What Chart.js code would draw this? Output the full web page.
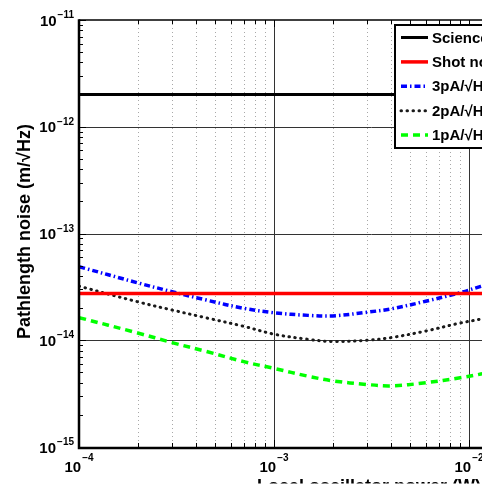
<!DOCTYPE html>
<html><head><meta charset="utf-8">
<script src="https://cdn.jsdelivr.net/npm/chart.js@4/dist/chart.umd.min.js"></script>
<style>
html,body{margin:0;padding:0;overflow:hidden;background:#fff;width:482px;height:490px}
#wrap{position:absolute;left:0;top:0;width:700px;height:490px}
</style></head>
<body><div id="wrap"><canvas id="c" width="700" height="490"></canvas></div>
<script>
// ---- data ----
const powerW   = [1e-4, 2e-4, 3e-4, 4.5e-4, 7e-4, 1e-3, 1.5e-3, 2e-3, 3e-3, 4e-3, 6e-3, 9e-3, 1.15e-2, 1.3e-2];
const noise3pA = [4.89e-14, 3.45e-14, 2.85e-14, 2.38e-14, 1.99e-14, 1.81e-14, 1.71e-14, 1.69e-14, 1.83e-14, 1.97e-14, 2.32e-14, 2.79e-14, 3.2e-14, 3.45e-14];
const noise2pA = [3.21e-14, 2.29e-14, 1.92e-14, 1.62e-14, 1.35e-14, 1.14e-14, 1.02e-14, 9.72e-15, 1.0e-14, 1.06e-14, 1.22e-14, 1.45e-14, 1.58e-14, 1.68e-14];
const noise1pA = [1.63e-14, 1.17e-14, 9.5e-15, 7.85e-15, 6.3e-15, 5.45e-15, 4.6e-15, 4.17e-15, 3.85e-15, 3.74e-15, 4.0e-15, 4.45e-15, 4.82e-15, 5.1e-15];
const flatX        = [1e-4, 1e-1];
const scienceReq   = [2.0e-12, 2.0e-12];
const shotNoise    = [2.74e-14, 2.74e-14];
const seriesLabels = ['Science requirement', 'Shot noise limit', '3pA/\u221AHz electronic noise', '2pA/\u221AHz electronic noise', '1pA/\u221AHz electronic noise'];
const xTickExps = [-4, -3, -2, -1];
const yTickExps = [-15, -14, -13, -12, -11];
const xTitle = 'Local oscillator power (W)';
const yTitle = 'Pathlength noise (m/\u221AHz)';

const FONT = '"Liberation Sans", Arial, Helvetica, sans-serif';
const pts = (xs, ys) => xs.map((v, i) => ({x: v, y: ys[i]}));
const SUP = {'-':'\u2212'};
const supText = e => String(e).split('').map(c => SUP[c] || c).join('');

const deco = {
  id: 'deco',
  beforeDatasetsDraw(chart) {
    const {ctx, chartArea: a, scales: {x, y}} = chart;
    ctx.save();
    ctx.beginPath(); ctx.rect(a.left, a.top, a.right - a.left, a.bottom - a.top); ctx.clip();
    ctx.strokeStyle = '#a8a8a8'; ctx.lineWidth = 1; ctx.setLineDash([1, 3]);
    for (let e = xTickExps[0]; e < xTickExps[xTickExps.length - 1]; e++) {
      for (let m = 2; m <= 9; m++) {
        const px = Math.round(x.getPixelForValue(m * Math.pow(10, e))) + 0.5;
        ctx.beginPath(); ctx.moveTo(px, a.top); ctx.lineTo(px, a.bottom); ctx.stroke();
      }
    }
    ctx.setLineDash([]);
    ctx.strokeStyle = '#333'; ctx.lineWidth = 1;
    xTickExps.slice(1, -1).forEach(e => {
      const px = Math.round(x.getPixelForValue(Math.pow(10, e))) + 0.5;
      ctx.beginPath(); ctx.moveTo(px, a.top); ctx.lineTo(px, a.bottom); ctx.stroke();
    });
    yTickExps.slice(1, -1).forEach(e => {
      const py = Math.round(y.getPixelForValue(Math.pow(10, e))) + 0.5;
      ctx.beginPath(); ctx.moveTo(a.left, py); ctx.lineTo(a.right, py); ctx.stroke();
    });
    ctx.restore();
  },
  afterDatasetsDraw(chart) {
    const {ctx, chartArea: a, scales: {x, y}} = chart;
    ctx.save();
    ctx.strokeStyle = '#000'; ctx.lineWidth = 1;
    for (let e = yTickExps[0]; e <= yTickExps[yTickExps.length - 1]; e++) {
      for (let m = 1; m <= 9; m++) {
        if (e === yTickExps[yTickExps.length - 1] && m > 1) break;
        const py = Math.round(y.getPixelForValue(m * Math.pow(10, e))) + 0.5;
        const len = m === 1 ? 7 : 4;
        ctx.beginPath(); ctx.moveTo(a.left, py); ctx.lineTo(a.left + len, py); ctx.stroke();
      }
    }
    for (let e = xTickExps[0]; e <= xTickExps[xTickExps.length - 1]; e++) {
      for (let m = 1; m <= 9; m++) {
        if (e === xTickExps[xTickExps.length - 1] && m > 1) break;
        const px = Math.round(x.getPixelForValue(m * Math.pow(10, e))) + 0.5;
        const len = m === 1 ? 7 : 4;
        ctx.beginPath(); ctx.moveTo(px, a.bottom); ctx.lineTo(px, a.bottom - len); ctx.stroke();
        ctx.beginPath(); ctx.moveTo(px, a.top); ctx.lineTo(px, a.top + len); ctx.stroke();
      }
    }
    ctx.lineWidth = 1.5;
    ctx.beginPath(); ctx.moveTo(a.left, a.top); ctx.lineTo(a.right, a.top); ctx.stroke();
    ctx.lineWidth = 2.5;
    ctx.beginPath(); ctx.moveTo(a.left, a.top - 0.75); ctx.lineTo(a.left, a.bottom + 1); ctx.lineTo(a.right, a.bottom + 1); ctx.stroke();

    // legend
    const ds = chart.data.datasets;
    const lx = 395, ly = 25, lw = 262, lh = 123;
    ctx.fillStyle = '#fff'; ctx.fillRect(lx, ly, lw, lh);
    ctx.strokeStyle = '#000'; ctx.lineWidth = 2; ctx.strokeRect(lx, ly, lw, lh);
    ctx.font = 'bold 15px ' + FONT; ctx.textBaseline = 'middle'; ctx.textAlign = 'left';
    ds.forEach((d, i) => {
      const ry = 37.5 + i * 24.4;
      ctx.strokeStyle = d.borderColor; ctx.lineWidth = d.borderWidth;
      ctx.lineCap = d.borderCapStyle || 'butt';
      ctx.setLineDash(d.borderDash || []);
      ctx.beginPath(); ctx.moveTo(401, ry); ctx.lineTo(428, ry); ctx.stroke();
      ctx.setLineDash([]); ctx.lineCap = 'butt';
      ctx.fillStyle = '#000'; ctx.fillText(d.label, 432, ry + 1);
    });
    ctx.restore();
  },
  afterDraw(chart) {
    const {ctx, chartArea: a, scales: {x, y}} = chart;
    ctx.save(); ctx.fillStyle = '#000'; ctx.textBaseline = 'alphabetic';
    const big = 'bold 15px ' + FONT, small = 'bold 10px ' + FONT;
    yTickExps.forEach(e => {
      const py = y.getPixelForValue(Math.pow(10, e));
      const s = supText(e);
      ctx.font = small; const sw = ctx.measureText(s).width;
      ctx.textAlign = 'left'; ctx.fillText(s, 74 - sw, py - 2);
      ctx.font = big; ctx.textAlign = 'right'; ctx.fillText('10', 74 - sw - 1, py + 5.5);
    });
    xTickExps.forEach(e => {
      const px = x.getPixelForValue(Math.pow(10, e));
      const s = supText(e);
      ctx.font = small; const sw = ctx.measureText(s).width;
      ctx.font = big; const tw = ctx.measureText('10').width;
      const start = px - (tw + 1 + sw) / 2;
      ctx.textAlign = 'left';
      ctx.fillText('10', start, 472);
      ctx.font = small; ctx.fillText(s, start + tw + 1, 461);
    });
    ctx.font = 'bold 18px ' + FONT; ctx.textAlign = 'center';
    ctx.save();
    ctx.beginPath(); ctx.rect(0, 0, 700, 483.5); ctx.clip();
    ctx.fillText(xTitle, 369, 492);
    ctx.restore();
    ctx.translate(30, 231.5); ctx.rotate(-Math.PI / 2);
    ctx.fillText(yTitle, 0, 0);
    ctx.restore();
  }
};

new Chart(document.getElementById('c'), {
  type: 'line',
  data: {
    datasets: [
      {label: seriesLabels[0], data: pts(flatX, scienceReq), borderColor: '#000', borderWidth: 3},
      {label: seriesLabels[1], data: pts(flatX, shotNoise), borderColor: '#ff0000', borderWidth: 3.5},
      {label: seriesLabels[2], data: pts(powerW, noise3pA), borderColor: '#0000ff', borderWidth: 3.5, borderDash: [6, 3, 1.5, 3], tension: 0.35},
      {label: seriesLabels[3], data: pts(powerW, noise2pA), borderColor: '#1a1a1a', borderWidth: 3, borderDash: [0.5, 5.5], borderCapStyle: 'round', tension: 0.35},
      {label: seriesLabels[4], data: pts(powerW, noise1pA), borderColor: '#00ff00', borderWidth: 3.5, borderDash: [7, 5], tension: 0.35}
    ]
  },
  options: {
    responsive: false, animation: false, devicePixelRatio: 1,
    layout: {padding: {top: 20, left: 0, right: 36, bottom: 0}},
    elements: {point: {radius: 0, hoverRadius: 0}},
    plugins: {legend: {display: false}, tooltip: {enabled: false}},
    events: [],
    scales: {
      x: {type: 'logarithmic', min: 1e-4, max: 1e-1,
          grid: {display: false}, border: {display: false}, ticks: {display: false},
          afterFit: s => { s.height = 43; }},
      y: {type: 'logarithmic', min: 1e-15, max: 1e-11,
          grid: {display: false}, border: {display: false}, ticks: {display: false},
          afterFit: s => { s.width = 79; }}
    }
  },
  plugins: [deco]
});
</script>
</body></html>
